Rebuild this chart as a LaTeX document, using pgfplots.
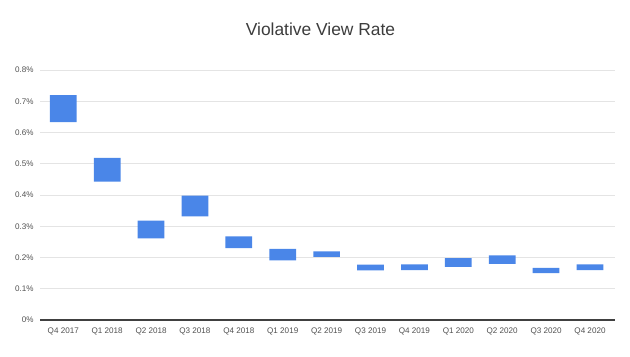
\documentclass[border=0pt]{standalone}
\usepackage{pgfplots}
\pgfplotsset{compat=1.18}
\usepackage{pgfplotstable}
\usepackage{fontspec}
\setmainfont{Liberation Sans}
\definecolor{barblue}{HTML}{4A86E8}
\definecolor{gridgray}{HTML}{E4E4E4}
\definecolor{ticktext}{HTML}{505050}
\definecolor{titletext}{HTML}{3C3C3C}
\pgfplotstableread{
x lo hi
0 0.633 0.720
1 0.443 0.519
2 0.261 0.318
3 0.332 0.398
4 0.230 0.268
5 0.191 0.228
6 0.202 0.220
7 0.159 0.177
8 0.160 0.178
9 0.170 0.198
10 0.180 0.207
11 0.150 0.167
12 0.160 0.178
}\vvr
\begin{document}
\begin{tikzpicture}
\useasboundingbox (0bp,0bp) rectangle (630bp,357bp);
\begin{axis}[
  at={(40bp,37bp)}, anchor=south west,
  scale only axis, width=575bp, height=250bp,
  xmin=-0.53, xmax=12.57, ymin=0, ymax=0.8,
  ybar stacked, bar width=26.7bp,
  axis x line*=bottom, axis y line*=left,
  y axis line style={draw=none},
  x axis line style={draw=black!75, line width=1.3bp, -},
  major tick length=0pt,
  ymajorgrids, grid style={gridgray, line width=0.8bp},
  ytick={0,0.1,0.2,0.3,0.4,0.5,0.6,0.7,0.8},
  yticklabels={0\%,0.1\%,0.2\%,0.3\%,0.4\%,0.5\%,0.6\%,0.7\%,0.8\%},
  xtick={0,1,2,3,4,5,6,7,8,9,10,11,12},
  xticklabels={Q4 2017,Q1 2018,Q2 2018,Q3 2018,Q4 2018,Q1 2019,Q2 2019,Q3 2019,Q4 2019,Q1 2020,Q2 2020,Q3 2020,Q4 2020},
  ticklabel style={font=\fontsize{8.1bp}{9bp}\selectfont, text=ticktext},
  yticklabel style={xshift=-3bp},
  xticklabel style={anchor=base, yshift=-13bp},
  title={Violative View Rate},
  every axis title/.style={at={(0.5,1)}, anchor=base, yshift=34.3bp, xshift=-7bp, font=\fontsize{17.4bp}{20bp}\selectfont, text=titletext},
]
\addplot[draw=none, fill=none] table[x=x, y=lo] {\vvr};
\addplot[draw=none, fill=barblue] table[x=x, y expr=\thisrow{hi}-\thisrow{lo}] {\vvr};
\end{axis}
\end{tikzpicture}
\end{document}
